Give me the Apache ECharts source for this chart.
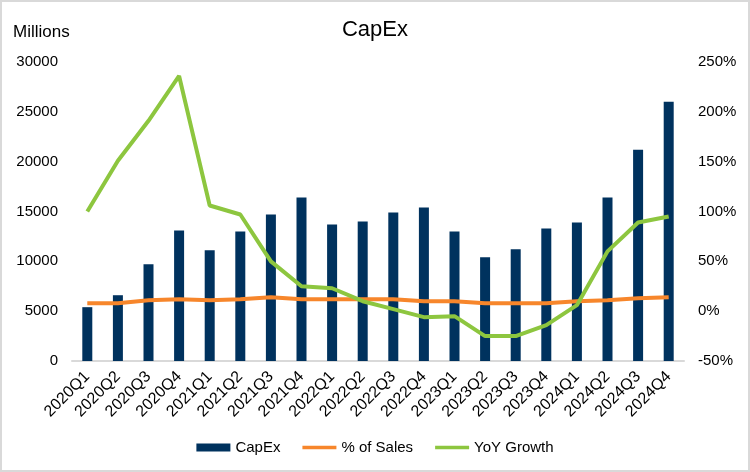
<!DOCTYPE html>
<html>
<head>
<meta charset="utf-8">
<script src="https://cdn.jsdelivr.net/npm/echarts@6/dist/echarts.min.js"></script>
<style>
html,body{margin:0;padding:0;background:#fff;}
#wrap{position:absolute;left:0;top:0;width:746px;height:468px;border:2px solid #d9d9d9;background:#fff;}
#chart{position:absolute;left:-2px;top:-2px;width:750px;height:472px;}
</style>
</head>
<body>
<div id="wrap"><div id="chart"></div></div>
<script>
const categories = ['2020Q1','2020Q2','2020Q3','2020Q4','2021Q1','2021Q2','2021Q3','2021Q4','2022Q1','2022Q2','2022Q3','2022Q4','2023Q1','2023Q2','2023Q3','2023Q4','2024Q1','2024Q2','2024Q3','2024Q4'];
const capex = [5400,6600,9700,13100,11100,13000,14700,16400,13700,14000,14900,15400,13000,10400,11200,13300,13900,16400,21200,26000];
const pctOfSales = [8,8,11,12,11,12,14,12,12,12,12,10,10,8,8,8,10,11,13,14];
const yoyGrowth = [100,151,191,236,106,97,50,25,23,10,2,-6,-5,-25,-25,-14,6,60,89,95];
const leftTicks = {min:0,max:30000,interval:5000};
const rightTicks = {min:-50,max:250,interval:50};

const FONT = '"Liberation Sans", Arial, sans-serif';
const lineIcon = 'path://M0,0H34V3.6H0Z';
const chart = echarts.init(document.getElementById('chart'), null, {renderer:'canvas'});
chart.setOption({
  backgroundColor: 'transparent',
  animation: false,
  textStyle: {fontFamily: FONT},
  title: {
    text: 'CapEx', left: 'center', top: 14,
    textStyle: {fontFamily: FONT, fontSize: 22, fontWeight: 'normal', color: '#000'}
  },
  graphic: [{
    type: 'text', left: 13, top: 24,
    style: {text: 'Millions', font: '17px ' + FONT, fill: '#000'}
  }],
  legend: {
    bottom: 12, left: 'center',
    itemWidth: 34, itemHeight: 8, itemGap: 22,
    textStyle: {fontFamily: FONT, fontSize: 15, color: '#000'},
    data: [
      {name: 'CapEx', icon: 'rect'},
      {name: '% of Sales', icon: lineIcon},
      {name: 'YoY Growth', icon: lineIcon}
    ]
  },
  grid: {left: 72, right: 66, top: 62, bottom: 111, containLabel: false},
  xAxis: {
    type: 'category', data: categories,
    axisLine: {lineStyle: {color: '#d9d9d9', width: 2}},
    axisTick: {show: false},
    axisLabel: {rotate: 45, interval: 0, margin: 13, fontSize: 16, fontFamily: FONT, color: '#000'}
  },
  yAxis: [{
    type: 'value', min: leftTicks.min, max: leftTicks.max, interval: leftTicks.interval,
    splitLine: {show: false}, axisLine: {show: false}, axisTick: {show: false},
    axisLabel: {margin: 14, fontSize: 15, fontFamily: FONT, color: '#000', formatter: v => String(v)}
  }, {
    type: 'value', min: rightTicks.min, max: rightTicks.max, interval: rightTicks.interval,
    splitLine: {show: false}, axisLine: {show: false}, axisTick: {show: false},
    axisLabel: {margin: 14, fontSize: 15, fontFamily: FONT, color: '#000', formatter: '{value}%'}
  }],
  series: [{
    name: 'CapEx', type: 'bar', data: capex, barWidth: 10,
    itemStyle: {color: '#00325e'}
  }, {
    name: '% of Sales', type: 'line', yAxisIndex: 1, data: pctOfSales,
    symbol: 'none',
    lineStyle: {color: '#f7862b', width: 4}, itemStyle: {color: '#f7862b'}
  }, {
    name: 'YoY Growth', type: 'line', yAxisIndex: 1, data: yoyGrowth,
    symbol: 'none',
    lineStyle: {color: '#8dc63f', width: 4}, itemStyle: {color: '#8dc63f'}
  }]
});
</script>
</body>
</html>
